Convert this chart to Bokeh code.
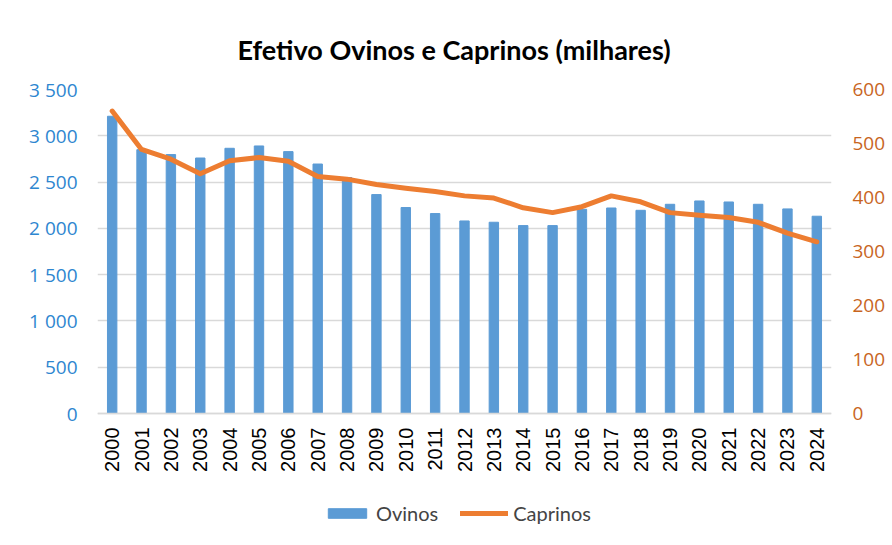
from bokeh.plotting import figure
from bokeh.models import (FactorRange, Range1d, LinearAxis, FixedTicker, Legend,
                          LegendItem, ColumnDataSource)
from bokeh.embed import file_html
from bokeh.resources import INLINE
import math

years = [str(y) for y in range(2000, 2025)]
ovinos = [3211, 2850, 2797, 2760, 2865, 2890, 2829, 2695, 2549, 2365, 2225, 2160,
          2080, 2066, 2030, 2030, 2206, 2220, 2195, 2260, 2296, 2285, 2260, 2210, 2131]
caprinos = [560, 489, 471, 444, 468, 474, 467, 439, 434, 424, 417, 411,
            403, 399, 381, 372, 383, 403, 392, 372, 367, 363, 354, 334, 318]
left_ticks = [0, 500, 1000, 1500, 2000, 2500, 3000, 3500]
right_ticks = [0, 100, 200, 300, 400, 500, 600]

# plot area: values 0..max occupy the top 324 px; the frame continues 116 px
# below zero so the year labels and legend sit inside it
VAL_PX, EXTRA_PX = 324, 116
left_max, right_max = left_ticks[-1], right_ticks[-1]
left_min = -EXTRA_PX * left_max / VAL_PX
right_min = -EXTRA_PX * right_max / VAL_PX

src = ColumnDataSource(dict(year=years, ov=ovinos, cap=caprinos))

p = figure(frame_width=734, frame_height=VAL_PX + EXTRA_PX,
           x_range=FactorRange(*years, range_padding=0),
           y_range=Range1d(left_min, left_max), output_backend="svg",
           toolbar_location=None,
           min_border_left=97, min_border_right=52, min_border_top=89,
           min_border_bottom=0)
p.extra_y_ranges = {"cap": Range1d(right_min, right_max)}

p.title.text = "Efetivo Ovinos e Caprinos (milhares)"
p.title.align = "left"
p.title.text_font = "Lato"
p.title.text_font_style = "bold"
p.title.text_font_size = "27px"
p.title.text_color = "#000000"
p.title.offset = 140
p.title.standoff = 48

r_bar = p.vbar(x="year", top="ov", width=0.32, source=src, color="#5B9BD5")
r_line = p.line(x="year", y="cap", source=src, y_range_name="cap",
                line_color="#ED7D31", line_width=5, line_join="round", line_cap="round")

p.outline_line_color = None
p.xgrid.grid_line_color = None
p.ygrid.grid_line_color = "#D9D9D9"
p.ygrid.grid_line_width = 1.5
p.yaxis.ticker = FixedTicker(ticks=left_ticks)
p.yaxis.major_label_overrides = {t: (f"{t:,}".replace(",", " ")) for t in left_ticks}
p.yaxis.axis_line_color = None
p.yaxis.major_tick_line_color = None
p.yaxis.minor_tick_line_color = None
p.yaxis.major_tick_out = 0
p.yaxis.major_label_text_color = "#2E86D0"
p.yaxis.major_label_text_font = "Open Sans"
p.yaxis.major_label_text_font_size = "19px"
p.yaxis.major_label_standoff = 20

ax2 = LinearAxis(y_range_name="cap", ticker=FixedTicker(ticks=right_ticks))
ax2.axis_line_color = None
ax2.major_tick_line_color = None
ax2.minor_tick_line_color = None
ax2.major_tick_out = 0
ax2.major_label_text_color = "#C8651E"
ax2.major_label_text_font = "Open Sans"
ax2.major_label_text_font_size = "19px"
ax2.major_label_standoff = 21
p.add_layout(ax2, "right")

p.xaxis.fixed_location = 0
p.xaxis.axis_line_color = "#D9D9D9"
p.xaxis.axis_line_width = 1.5
p.xaxis.major_tick_line_color = None
p.xaxis.minor_tick_line_color = None
p.xaxis.major_tick_out = 0
p.xaxis.major_tick_in = 0
p.xaxis.major_label_orientation = math.pi / 2
p.xaxis.major_label_text_font = "Liberation Sans"
p.xaxis.major_label_text_font_size = "20px"
p.xaxis.major_label_text_color = "#000000"
p.xaxis.major_label_standoff = 14

legend = Legend(items=[LegendItem(label="Ovinos", renderers=[r_bar]),
                       LegendItem(label="Caprinos", renderers=[r_line])],
                orientation="horizontal", location=(226, 4),
                label_text_font="Lato", label_text_font_size="20px",
                glyph_width=48, glyph_height=12, spacing=22, label_standoff=5,
                border_line_color=None, background_fill_alpha=0, margin=0,
                padding=2)
p.add_layout(legend, "center")

open("out.html", "w").write(file_html(p, INLINE))
